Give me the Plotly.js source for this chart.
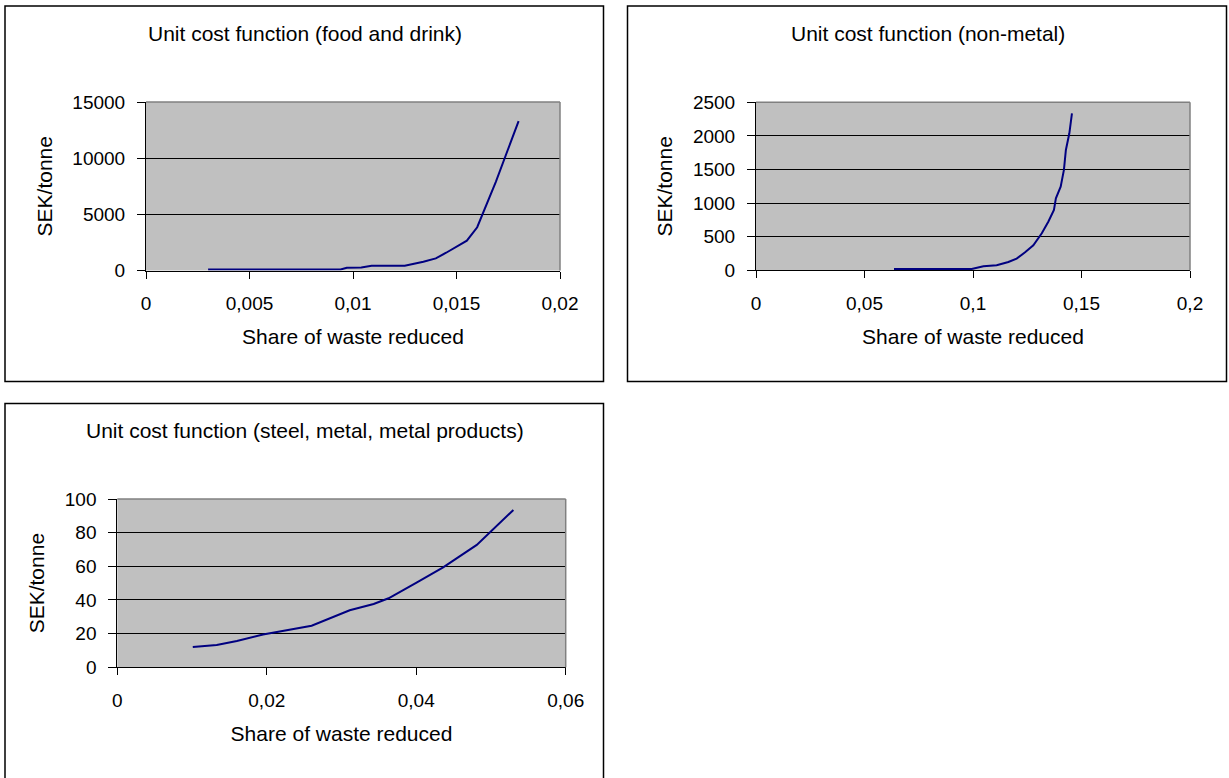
<!DOCTYPE html>
<html>
<head>
<meta charset="utf-8">
<script src="https://cdn.plot.ly/plotly-3.0.1.min.js"></script>
<style>html,body{margin:0;padding:0;background:#fff;}#chart{width:1229px;height:778px;}</style>
</head>
<body>
<div id="chart"></div>
<script>
// ---- Data ----
const foodX = [0.0030, 0.0094, 0.0097, 0.0104, 0.0109, 0.0125, 0.0134, 0.0140, 0.0145, 0.0150, 0.0155, 0.0160, 0.0164, 0.0169, 0.0180];
const foodY = [100, 100, 250, 260, 420, 430, 780, 1080, 1580, 2150, 2650, 3850, 5700, 7900, 13300];

const nonMetalX = [0.0636, 0.0994, 0.1048, 0.1109, 0.1163, 0.1201, 0.1240, 0.1278, 0.1317, 0.1347, 0.1373, 0.1382, 0.1404, 0.1419, 0.1428, 0.1444, 0.1456];
const nonMetalY = [20, 20, 60, 75, 123, 173, 268, 372, 550, 723, 897, 1071, 1244, 1493, 1790, 2039, 2336];

const steelX = [0.0101, 0.0133, 0.0160, 0.0195, 0.0260, 0.0311, 0.0343, 0.0363, 0.0401, 0.0436, 0.0481, 0.0499, 0.0530];
const steelY = [12.1, 13.2, 15.6, 19.5, 24.7, 33.9, 37.6, 41.0, 50.5, 59.4, 72.7, 80.2, 93.5];

const titles = ["Unit cost function (food and drink)", "Unit cost function (non-metal)", "Unit cost function (steel, metal, metal products)"];
const xTitle = "Share of waste reduced";
const yTitle = "SEK/tonne";

const foodXTicks = [0, 0.005, 0.01, 0.015, 0.02];
const foodXLabels = ["0", "0,005", "0,01", "0,015", "0,02"];
const foodYTicks = [0, 5000, 10000, 15000];
const foodYLabels = ["0", "5000", "10000", "15000"];

const nonMetalXTicks = [0, 0.05, 0.1, 0.15, 0.2];
const nonMetalXLabels = ["0", "0,05", "0,1", "0,15", "0,2"];
const nonMetalYTicks = [0, 500, 1000, 1500, 2000, 2500];
const nonMetalYLabels = ["0", "500", "1000", "1500", "2000", "2500"];

const steelXTicks = [0, 0.02, 0.04, 0.06];
const steelXLabels = ["0", "0,02", "0,04", "0,06"];
const steelYTicks = [0, 20, 40, 60, 80, 100];
const steelYLabels = ["0", "20", "40", "60", "80", "100"];

// ---- Layout helpers ----
const W = 1229, H = 778;
const px = v => v / W;
const py = v => 1 - v / H;
const FONT = "Liberation Sans, Arial, sans-serif";
const lineStyle = {color: "#000080", width: 2};

function xAxis(dom, range, tv, tt, anchor) {
  return {
    domain: [px(dom[0]), px(dom[1])], range: range, anchor: anchor,
    tickmode: "array", tickvals: tv, ticktext: tt,
    ticks: "outside", ticklen: 7, tickwidth: 1, tickcolor: "#000",
    showline: true, linecolor: "#000", linewidth: 1,
    showgrid: false, zeroline: false,
    tickfont: {family: FONT, size: 19, color: "#000"},
    ticklabelstandoff: 9,
    title: {text: xTitle, font: {family: FONT, size: 21, color: "#000"}, standoff: 16},
    fixedrange: true
  };
}
function yAxis(dom, range, tv, tt, anchor) {
  return {
    domain: [py(dom[1]), py(dom[0])], range: range, anchor: anchor,
    tickmode: "array", tickvals: tv, ticktext: tt,
    ticks: "outside", ticklen: 8, tickwidth: 1, tickcolor: "#000",
    showline: true, linecolor: "#000", linewidth: 1,
    showgrid: true, gridcolor: "#000", gridwidth: 1, zeroline: false,
    tickfont: {family: FONT, size: 19, color: "#000"},
    ticklabelstandoff: 8,
    title: {text: yTitle, font: {family: FONT, size: 21, color: "#000"}, standoff: 14},
    fixedrange: true
  };
}

const traces = [
  {x: foodX, y: foodY, type: "scatter", mode: "lines", line: lineStyle, xaxis: "x", yaxis: "y", hoverinfo: "x+y"},
  {x: nonMetalX, y: nonMetalY, type: "scatter", mode: "lines", line: lineStyle, xaxis: "x2", yaxis: "y2", hoverinfo: "x+y"},
  {x: steelX, y: steelY, type: "scatter", mode: "lines", line: lineStyle, xaxis: "x3", yaxis: "y3", hoverinfo: "x+y"}
];

// plot-area pixel boxes [x0, x1, yTop, yBottom]
const box1 = [146, 560, 102, 270.5];
const box2 = [756, 1190, 102.3, 270.3];
const box3 = [117.3, 565.7, 499, 667.3];

function frame(x0, x1, y0, y1) {
  return {type: "rect", xref: "paper", yref: "paper", x0: px(x0), x1: px(x1), y0: py(y1), y1: py(y0),
          line: {color: "#000", width: 1.5}, fillcolor: "rgba(0,0,0,0)", layer: "below"};
}
function plotBorder(b) {
  return [
    {type: "line", xref: "paper", yref: "paper", x0: px(b[0]), x1: px(b[1]), y0: py(b[2]), y1: py(b[2]), line: {color: "#808080", width: 1.5}, layer: "above"},
    {type: "line", xref: "paper", yref: "paper", x0: px(b[1]), x1: px(b[1]), y0: py(b[2]), y1: py(b[3]), line: {color: "#808080", width: 1.5}, layer: "above"}
  ];
}
function titleAnn(text, x, y) {
  return {text: text, xref: "paper", yref: "paper", x: px(x), y: py(y), xanchor: "center", yanchor: "middle",
          showarrow: false, font: {family: FONT, size: 21, color: "#000"}};
}

const layout = {
  width: W, height: H, autosize: false,
  margin: {l: 0, r: 0, t: 0, b: 0, pad: 0},
  paper_bgcolor: "#fff", plot_bgcolor: "#C0C0C0",
  showlegend: false,
  xaxis: xAxis([box1[0], box1[1]], [0, 0.02], foodXTicks, foodXLabels, "y"),
  yaxis: yAxis([box1[2], box1[3]], [0, 15000], foodYTicks, foodYLabels, "x"),
  xaxis2: xAxis([box2[0], box2[1]], [0, 0.2], nonMetalXTicks, nonMetalXLabels, "y2"),
  yaxis2: yAxis([box2[2], box2[3]], [0, 2500], nonMetalYTicks, nonMetalYLabels, "x2"),
  xaxis3: xAxis([box3[0], box3[1]], [0, 0.06], steelXTicks, steelXLabels, "y3"),
  yaxis3: yAxis([box3[2], box3[3]], [0, 100], steelYTicks, steelYLabels, "x3"),
  shapes: [
    frame(5, 603.5, 6, 381.5),
    frame(627.5, 1226.5, 6, 381.5),
    frame(5, 603.5, 403.5, 800)
  ].concat(plotBorder(box1), plotBorder(box2), plotBorder(box3)),
  annotations: [
    titleAnn(titles[0], 305, 33),
    titleAnn(titles[1], 928, 33),
    titleAnn(titles[2], 305, 430)
  ]
};

Plotly.newPlot("chart", traces, layout, {displayModeBar: false, staticPlot: false});
</script>
</body>
</html>
